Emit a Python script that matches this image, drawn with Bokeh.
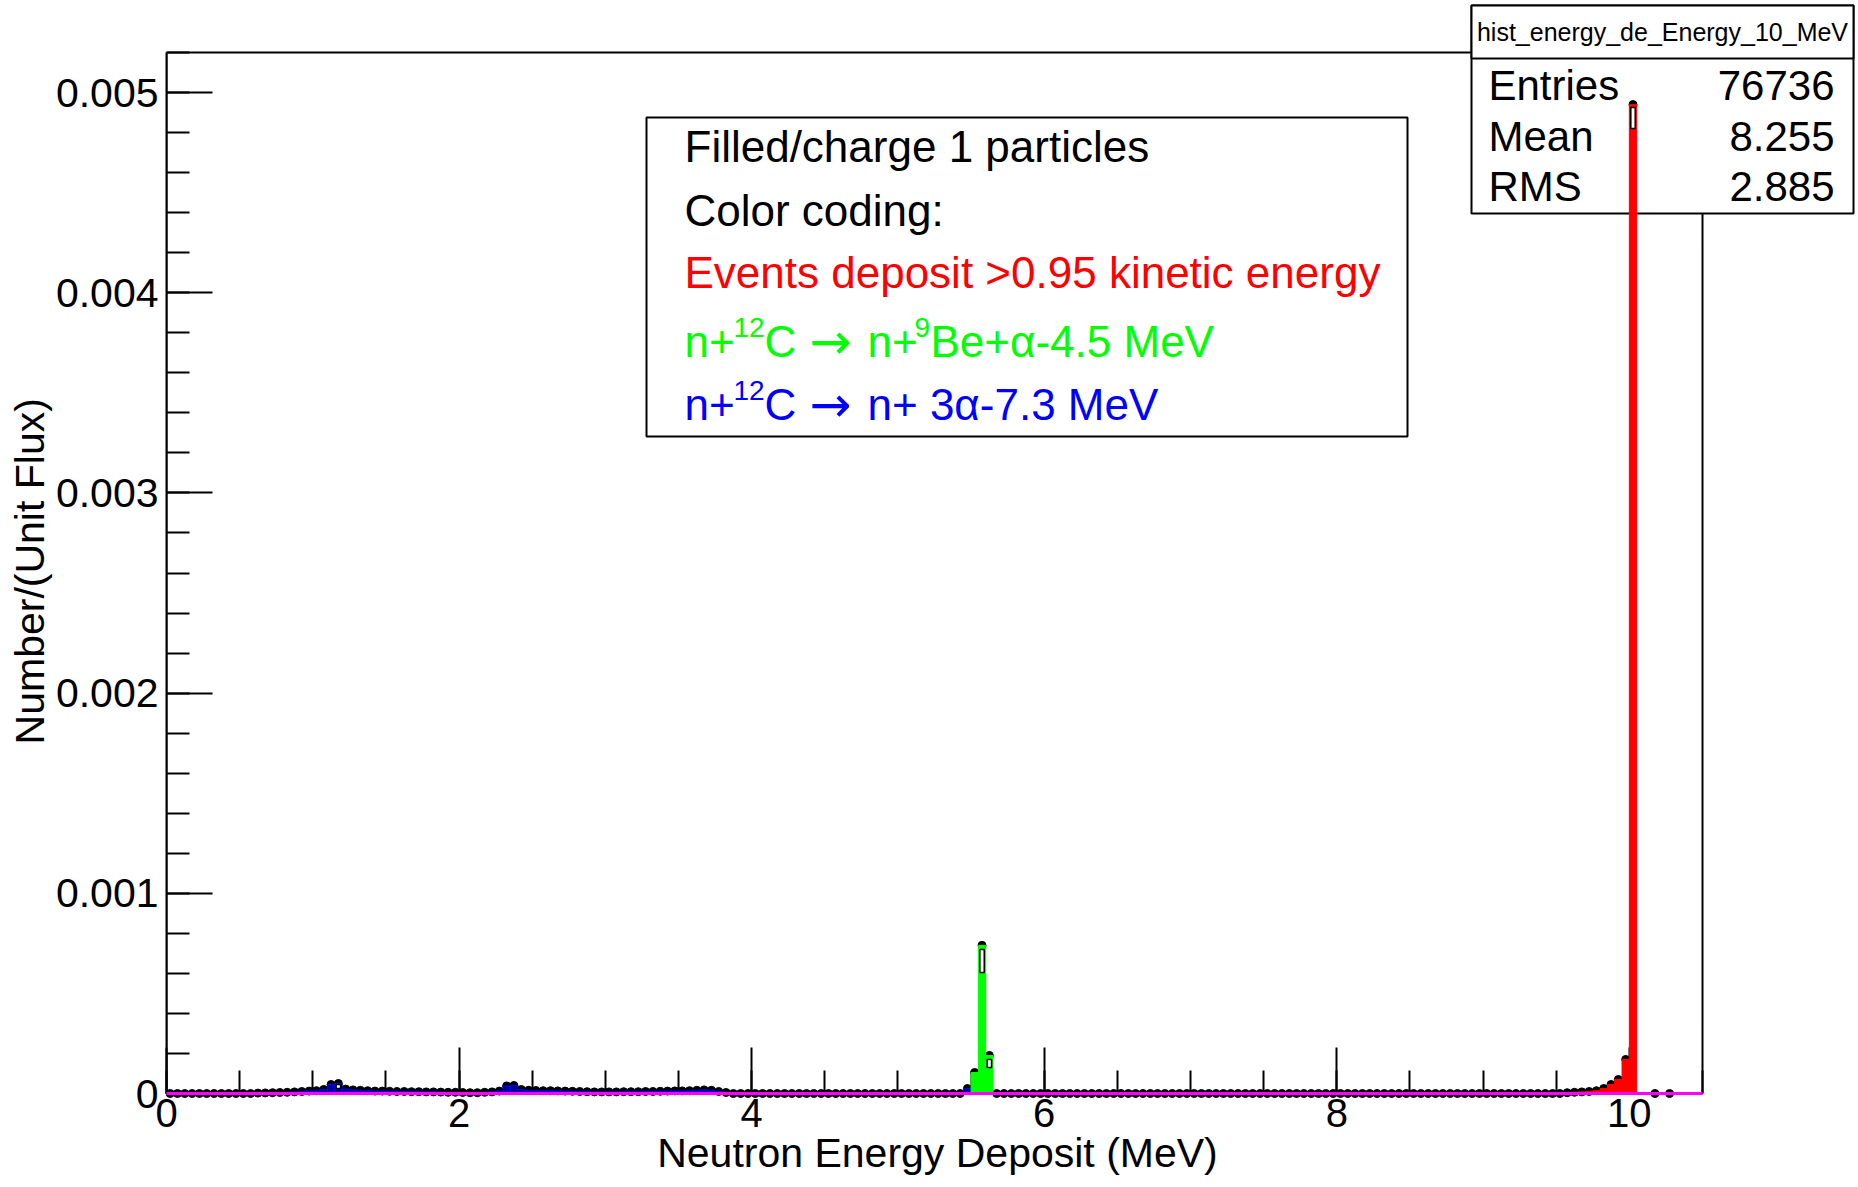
from bokeh.plotting import figure
from bokeh.models import (Range1d, SingleIntervalTicker, CustomJSTickFormatter,
                          BoxAnnotation, Label, ColumnDataSource)
from bokeh.embed import file_html
from bokeh.resources import INLINE

# ---------------- data ----------------
BIN_WIDTH = 0.05
X_MAX = 10.5
Y_MAX = 0.0052

# blue: n + 12C -> n + 3 alpha
blue_start = 0.60
blue_vals = [2e-6, 3e-6, 4e-6, 5e-6, 6e-6, 8e-6, 1.0e-5, 1.2e-5, 1.4e-5, 2.0e-5,
             4.5e-5, 5.0e-5, 2.2e-5, 1.8e-5, 1.6e-5, 1.4e-5, 1.2e-5, 1.2e-5, 1.1e-5, 1.0e-5,
             1.0e-5, 9e-6, 9e-6, 8e-6, 8e-6, 7e-6, 6e-6, 6e-6, 5e-6, 4e-6,
             4e-6, 6e-6, 8e-6, 1.2e-5, 3.8e-5, 4.0e-5, 2.0e-5, 1.6e-5, 1.5e-5, 1.4e-5,
             1.4e-5, 1.3e-5, 1.2e-5, 1.1e-5, 1.0e-5, 9e-6, 8e-6, 8e-6, 8e-6, 8e-6,
             9e-6, 9e-6, 9e-6, 1.0e-5, 1.0e-5, 1.1e-5, 1.2e-5, 1.3e-5, 1.3e-5, 1.4e-5,
             1.6e-5, 1.8e-5, 1.6e-5, 1.0e-5, 5e-6]
blue2_start = 5.45
blue2_vals = [2.5e-5]

# green: n + 12C -> n + 9Be + alpha
green_start = 5.50
green_vals = [1.05e-4, 7.4e-4, 1.9e-4]

# red: events depositing > 0.95 of kinetic energy
red_start = 9.55
red_vals = [4e-6, 6e-6, 8e-6, 1.0e-5, 1.4e-5, 2.5e-5, 4.5e-5, 7.0e-5, 1.7e-4, 4.94e-3]

# markers of the total histogram: bins 0 .. 10.05 plus two isolated ones
marker_n_bins = 201
extra_marker_x = [10.175, 10.275]
extra_marker_y = [0.0, 0.0]

# error-bar boxes drawn at the top of the tallest bins
err_x = [1.175, 5.575, 5.625, 10.025]
err_lo = [2.5e-5, 6.04e-4, 1.3e-4, 4.82e-3]
err_hi = [4.5e-5, 7.19e-4, 1.7e-4, 4.925e-3]

x_ticks_interval = 2
y_ticks_interval = 0.001

x_title = "Neutron Energy Deposit (MeV)"
y_title = "Number/(Unit Flux)"
stats_title = "hist_energy_de_Energy_10_MeV"
stats_names = ["Entries", "Mean", "RMS"]
stats_values = ["76736", "8.255", "2.885"]

# ---------------- geometry (page pixels) ----------------
W, H = 1858, 1187
FL, FB = 166, 1093          # left / bottom of the drawn axes frame
DR, DT = 1702, 52           # right / top of the drawn axes frame
AR, AT = 1856, 3            # right / top of the (invisible) bokeh frame
x_end = X_MAX * (AR - FL) / (DR - FL)
y_end = Y_MAX * (FB - AT) / (FB - DT)


def xd(px):
    return (px - FL) / (DR - FL) * X_MAX


def yd(py):
    return (FB - py) / (FB - DT) * Y_MAX


def hist(start, vals):
    left = [round(start + i * BIN_WIDTH, 6) for i in range(len(vals))]
    right = [round(l + BIN_WIDTH, 6) for l in left]
    return dict(left=left, right=right, top=list(vals), bottom=[0.0] * len(vals))


blue = hist(blue_start, blue_vals)
blue2 = hist(blue2_start, blue2_vals)
green = hist(green_start, green_vals)
red = hist(red_start, red_vals)

totals = [0.0] * marker_n_bins
for h in (blue, blue2, green, red):
    for l, t in zip(h["left"], h["top"]):
        k = int(round(l / BIN_WIDTH))
        if k < marker_n_bins:
            totals[k] += t
mx = [(k + 0.5) * BIN_WIDTH for k in range(marker_n_bins)] + extra_marker_x
my = totals + extra_marker_y

FONT = "Liberation Sans"
NBSP = "\u00a0"

p = figure(width=W, height=H, output_backend="svg", toolbar_location=None,
           x_range=Range1d(0, x_end), y_range=Range1d(0, y_end),
           min_border_left=FL, min_border_right=W - AR, min_border_top=AT,
           min_border_bottom=H - FB)
p.background_fill_color = "white"
p.border_fill_color = "white"
p.outline_line_color = None
p.xgrid.grid_line_color = None
p.ygrid.grid_line_color = None

for ax in (p.xaxis[0], p.yaxis[0]):
    ax.axis_line_color = "black"
    ax.axis_line_width = 2
    ax.major_tick_line_color = "black"
    ax.minor_tick_line_color = "black"
    ax.major_tick_line_width = 2
    ax.minor_tick_line_width = 2
    ax.major_tick_in = 46
    ax.major_tick_out = 0
    ax.minor_tick_in = 23
    ax.minor_tick_out = 0
    ax.major_label_text_font = FONT
    ax.major_label_text_color = "black"
    ax.axis_label_text_font = FONT
    ax.axis_label_text_color = "black"
    ax.axis_label_text_font_style = "normal"
    ax.axis_label_standoff = 0

p.xaxis[0].bounds = (0, X_MAX)
p.yaxis[0].bounds = (0, Y_MAX)
p.xaxis[0].ticker = SingleIntervalTicker(interval=x_ticks_interval, num_minor_ticks=4)
p.yaxis[0].ticker = SingleIntervalTicker(interval=y_ticks_interval, num_minor_ticks=5)
p.yaxis[0].formatter = CustomJSTickFormatter(
    code="return Math.abs(tick) < 1e-12 ? '0' : tick.toFixed(3);")
p.xaxis[0].major_label_text_font_size = "40px"
p.yaxis[0].major_label_text_font_size = "41px"
p.xaxis[0].major_label_standoff = 5
p.yaxis[0].major_label_standoff = 8
# trailing no-break spaces centre the titles on the drawn (not the extended) frame
p.xaxis[0].axis_label = x_title + NBSP * 13
p.xaxis[0].axis_label_text_font_size = "41px"
p.yaxis[0].axis_label = y_title + NBSP * 4
p.yaxis[0].axis_label_text_font_size = "41px"

# top and right frame lines (partly covered by the stats box)
p.add_layout(BoxAnnotation(left=0, right=X_MAX, bottom=0, top=Y_MAX, fill_color=None,
                           line_color="black", line_alpha=1.0, line_width=2))


def box(l, r, t, b):
    p.add_layout(BoxAnnotation(left=xd(l), right=xd(r), top=yd(t), bottom=yd(b),
                               fill_color="white", fill_alpha=1.0, line_color="black",
                               line_alpha=1.0, line_width=2))


def lab(px, py, text, size="44px", color="black", align="left", font=FONT):
    p.add_layout(Label(x=xd(px), y=yd(py), text=text, text_font=font,
                       text_font_size=size, text_color=color, text_align=align,
                       text_baseline="middle"))


# ---------------- legend box ----------------
box(646, 1407, 117, 436)
lab(684, 146, "Filled/charge 1 particles")
lab(684, 210, "Color coding:")
lab(684, 272, "Events deposit >0.95 kinetic energy", color="#ff0000")
G = "#00ff00"
B = "#0000ff"
SUP = 14
L4, L5 = 341, 404
lab(684, L4, "n+", color=G)
lab(733, L4 - SUP, "12", size="28px", color=G)
lab(764, L4, "C", color=G)
lab(809, L4, "\u2192", size="50px", color=G, font="DejaVu Sans")
lab(867, L4, "n+", color=G)
lab(914, L4 - SUP, "9", size="28px", color=G)
lab(930, L4, "Be+\u03b1-4.5 MeV", color=G)
lab(684, L5, "n+", color=B)
lab(733, L5 - SUP, "12", size="28px", color=B)
lab(764, L5, "C", color=B)
lab(809, L5, "\u2192", size="50px", color=B, font="DejaVu Sans")
lab(867, L5, "n+ 3\u03b1-7.3 MeV", color=B)

# ---------------- stats box ----------------
box(1471, 1853, 5, 213)
box(1471, 1853, 5, 58)
lab(1662, 31, stats_title, size="25px", align="center")
for i, (n, v) in enumerate(zip(stats_names, stats_values)):
    cy = [85, 136, 186][i]
    lab(1488, cy, n, size="42px")
    lab(1834, cy, v, size="42px", align="right")

# ---------------- histograms ----------------
rs = []
rs.append(p.scatter(x=mx, y=my, size=8, marker="circle", fill_color="black",
                    line_color="black"))
rs.append(p.quad(source=ColumnDataSource(blue), left="left", right="right", top="top",
                 bottom="bottom", fill_color="#000099", line_color="#0000ff", line_width=1))
rs.append(p.quad(source=ColumnDataSource(blue2), left="left", right="right", top="top",
                 bottom="bottom", fill_color="#000099", line_color="#0000ff", line_width=1))
rs.append(p.quad(source=ColumnDataSource(green), left="left", right="right", top="top",
                 bottom="bottom", fill_color="#00ff00", line_color="#00ff00", line_width=1))
rs.append(p.quad(source=ColumnDataSource(red), left="left", right="right", top="top",
                 bottom="bottom", fill_color="#ff0000", line_color="#ff0000", line_width=1))
rs.append(p.quad(left=[x - BIN_WIDTH * 0.3 for x in err_x],
                 right=[x + BIN_WIDTH * 0.3 for x in err_x],
                 top=err_hi, bottom=err_lo, fill_color="white", line_color="black",
                 line_width=1.5))
rs.append(p.line(x=[0, X_MAX], y=[0, 0], line_color="#ff00ff", line_width=3))
for r in rs:
    r.level = "overlay"

open("out.html", "w").write(file_html(p, INLINE))
